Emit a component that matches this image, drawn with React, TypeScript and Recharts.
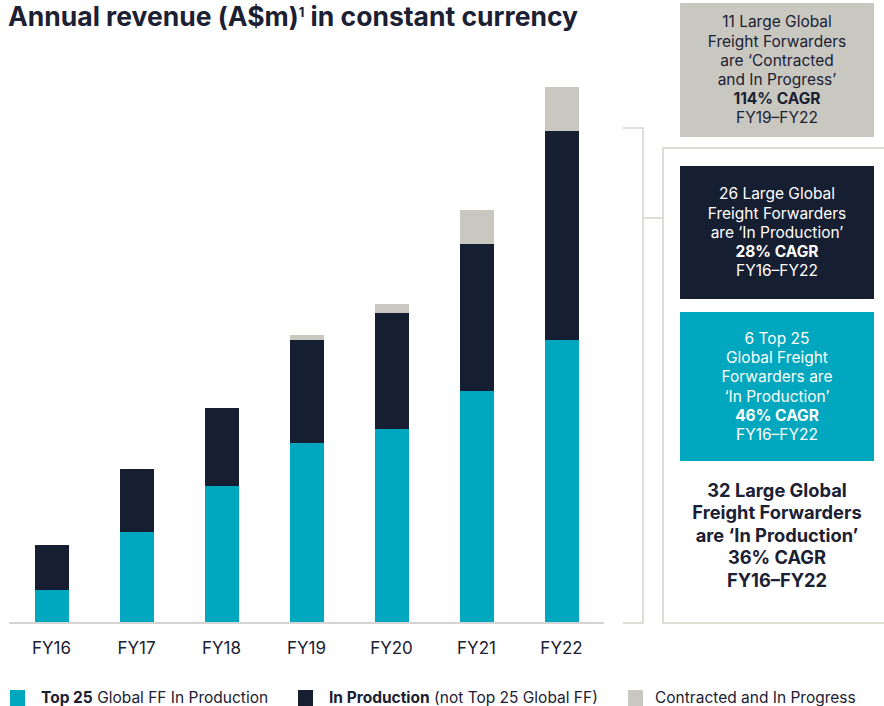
import React from 'react';
import { BarChart, Bar, XAxis, YAxis } from 'recharts';

const categories = ['FY16', 'FY17', 'FY18', 'FY19', 'FY20', 'FY21', 'FY22'];
const top25InProduction = [33, 91, 137, 180, 194, 232, 283];
const otherInProduction = [45, 63, 78, 103, 116, 147, 209];
const contractedInProgress = [0, 0, 0, 5, 9, 34, 44];

const seriesNames = ['Top 25 Global FF In Production', 'In Production (not Top 25 Global FF)', 'Contracted and In Progress'];
const legendBold = ['Top 25', 'In Production', ''];
const legendRest = [' Global FF In Production', ' (not Top 25 Global FF)', 'Contracted and In Progress'];

const grayBoxLines = ['11 Large Global', 'Freight Forwarders', 'are \u2018Contracted', 'and In Progress\u2019', '114% CAGR', 'FY19\u2013FY22'];
const navyBoxLines = ['26 Large Global', 'Freight Forwarders', 'are \u2018In Production\u2019', '28% CAGR', 'FY16\u2013FY22'];
const tealBoxLines = ['6 Top 25', 'Global Freight', 'Forwarders are', '\u2018In Production\u2019', '46% CAGR', 'FY16\u2013FY22'];
const summaryLines = ['32 Large Global', 'Freight Forwarders', 'are \u2018In Production\u2019', '36% CAGR', 'FY16\u2013FY22'];
const boldLineIndex = [4, 3, 4];

const TEAL = '#00a7be';
const NAVY = '#161e31';
const GRAY = '#c9c8c0';
const TEXT = '#1b2033';
const LINE = '#d3d2cc';
const FONT = 'Inter, "Noto Sans", sans-serif';

const data = categories.map((c, i) => ({
  name: c,
  top25: top25InProduction[i],
  other: otherInProduction[i],
  contracted: contractedInProgress[i],
}));

const colors = [TEAL, NAVY, GRAY];

function InfoBox({ top, height, bg, color, lines, bold }: { top: number; height: number; bg: string; color: string; lines: string[]; bold: number }) {
  return (
    <div
      style={{
        position: 'absolute', left: 680, top, width: 194, height, background: bg, color,
        display: 'flex', flexDirection: 'column', justifyContent: 'center', alignItems: 'center',
        fontFamily: FONT, fontSize: 15.5, lineHeight: '19.2px', textAlign: 'center',
      }}
    >
      {lines.map((l, i) => (
        <div key={i} style={{ fontWeight: i === bold ? 700 : 400, whiteSpace: 'nowrap' }}>{l}</div>
      ))}
    </div>
  );
}

export default function App() {
  return (
    <div style={{ position: 'absolute', left: 0, top: 0, width: 884, height: 706, background: '#fff', overflow: 'hidden' }}>
      <div style={{ position: 'absolute', left: 8, top: 0, fontFamily: FONT, fontWeight: 700, fontSize: 26.5, lineHeight: 'normal', color: TEXT, whiteSpace: 'nowrap' }}>
        Annual revenue (A$m)<span style={{ fontSize: 13, verticalAlign: '0.7em', lineHeight: 1 }}>1</span> in constant currency
      </div>
      <div style={{ position: 'absolute', left: 0, top: 0 }}>
        <BarChart width={884} height={706} data={data} margin={{ top: 63, right: 280, bottom: 53, left: 9 }}>
          <YAxis hide domain={[0, 560]} />
          <XAxis
            dataKey="name"
            axisLine={{ stroke: '#d4d4d4', strokeWidth: 2 }}
            tickLine={false}
            tickSize={0}
            tickMargin={19}
            tick={{ fill: TEXT, fontSize: 17, fontFamily: FONT }}
            interval={0}
          />
          <Bar dataKey="top25" name={seriesNames[0]} stackId="a" fill={TEAL} barSize={34} isAnimationActive={false} />
          <Bar dataKey="other" name={seriesNames[1]} stackId="a" fill={NAVY} barSize={34} isAnimationActive={false} />
          <Bar dataKey="contracted" name={seriesNames[2]} stackId="a" fill={GRAY} barSize={34} isAnimationActive={false} />
        </BarChart>
      </div>

      <svg width={884} height={706} style={{ position: 'absolute', left: 0, top: 0, pointerEvents: 'none' }}>
        <polyline points="623,128 643,128 643,623 623,623" fill="none" stroke={LINE} strokeWidth={1.5} />
        <line x1={643} y1={218} x2={663} y2={218} stroke={LINE} strokeWidth={1.5} />
        <polyline points="884,148 663,148 663,623 884,623" fill="none" stroke={LINE} strokeWidth={1.5} />
      </svg>

      <InfoBox top={3} height={134} bg={GRAY} color={TEXT} lines={grayBoxLines} bold={boldLineIndex[0]} />
      <InfoBox top={166} height={133} bg={NAVY} color="#ffffff" lines={navyBoxLines} bold={boldLineIndex[1]} />
      <InfoBox top={312} height={149} bg={TEAL} color="#ffffff" lines={tealBoxLines} bold={boldLineIndex[2]} />

      <div
        style={{
          position: 'absolute', left: 670, top: 479, width: 214, textAlign: 'center', fontFamily: FONT,
          fontWeight: 700, fontSize: 18.3, lineHeight: '22.4px', color: TEXT,
        }}
      >
        {summaryLines.map((l, i) => (<div key={i} style={{ whiteSpace: 'nowrap' }}>{l}</div>))}
      </div>

      {[10, 298, 628].map((x, i) => (
        <div key={i} style={{ position: 'absolute', left: x, top: 688, display: 'flex', alignItems: 'center', fontFamily: FONT, fontSize: 15.5, color: TEXT, whiteSpace: 'nowrap' }}>
          <span style={{ display: 'inline-block', width: 15, height: 16, background: colors[i], marginRight: i === 2 ? 12 : 16 }} />
          <span>
            {legendBold[i] ? <b>{legendBold[i]}</b> : null}
            {legendRest[i]}
          </span>
        </div>
      ))}
    </div>
  );
}
